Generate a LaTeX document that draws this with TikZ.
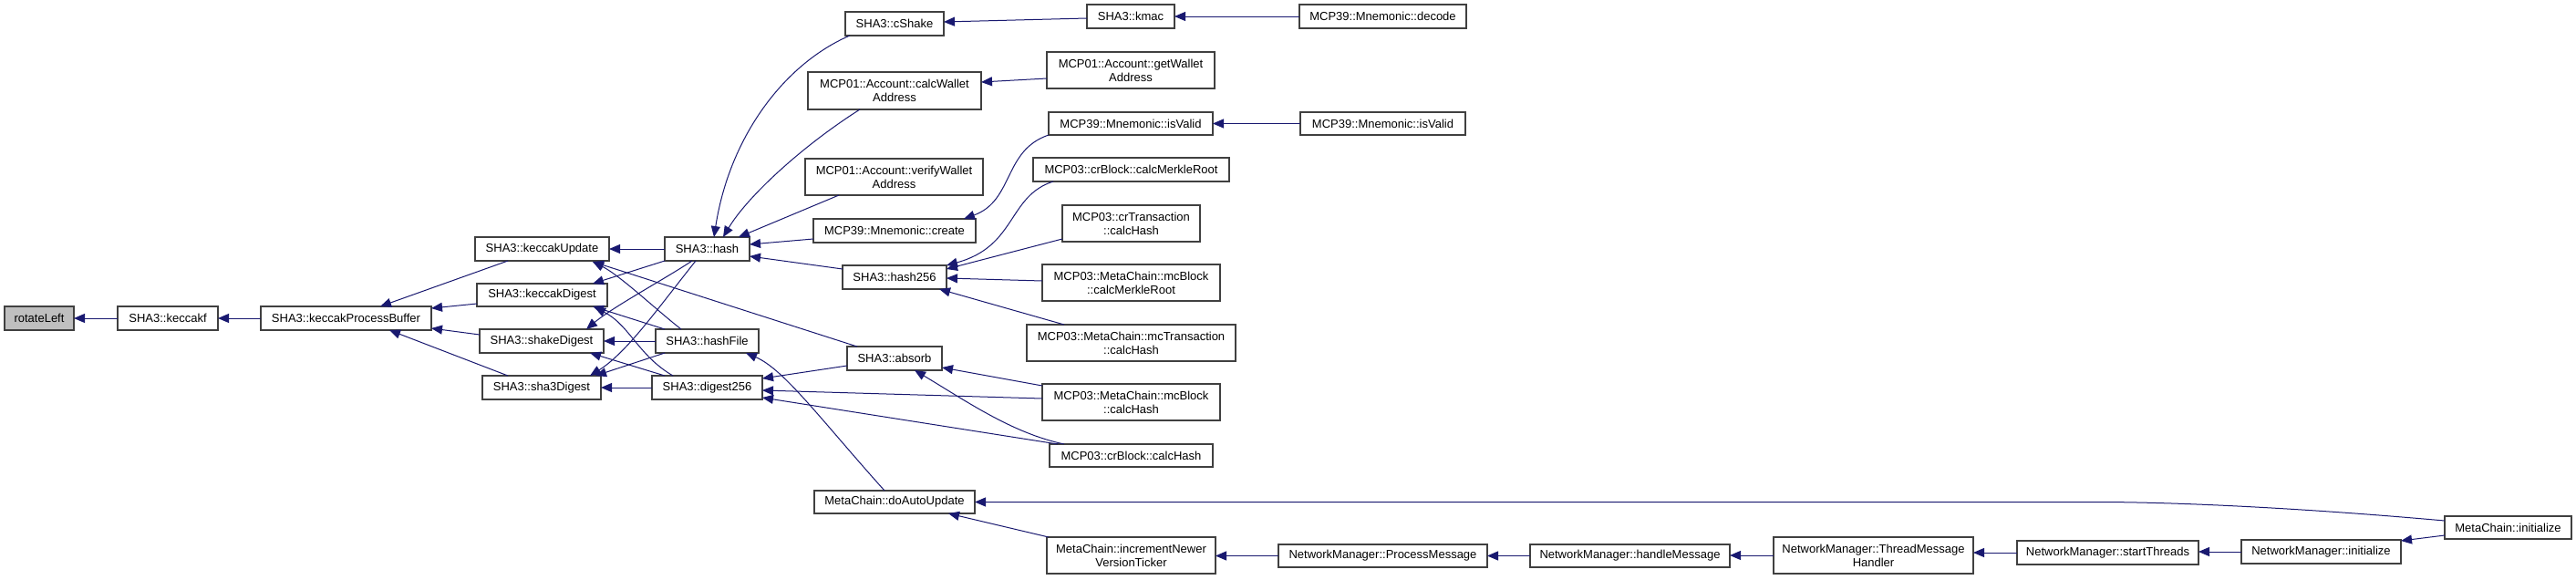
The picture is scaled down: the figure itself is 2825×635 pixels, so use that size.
\documentclass[tikz,border=0pt]{standalone}
\usepackage{fontspec}
\setmainfont{Liberation Sans}
\usetikzlibrary{arrows.meta,calc}
\definecolor{edgeblue}{RGB}{25,25,112}
\definecolor{boxline}{RGB}{64,64,64}
\newcommand\nd[7][]{\node[box,#1,minimum width={(#5-#3)*1pt},minimum height={(#6-#4)*1pt}] (#2) at ({(#3+#5)/2},{(#4+#6)/2}) {#7};}
\tikzset{
  box/.style={draw=boxline,line width=1.3pt,fill=white,inner sep=0pt,outer sep=0pt,align=center,
    font=\fontsize{13}{15}\selectfont},
  hilite/.style={fill=black!25},
  edge/.style={draw=edgeblue,line width=1pt,-{Triangle[length=12pt,width=10pt]}}
}
\begin{document}
\begin{tikzpicture}[x=1pt,y=-1pt]
\fill[white] (0,0) rectangle (2825,635);
\useasboundingbox (0,0) rectangle (2825,635);

% ---------------- nodes ----------------
\nd[hilite]{rl}{5}{336}{81}{362}{rotateLeft}
\nd{kf}{129}{336}{239}{362}{SHA3::keccakf}
\nd{kpb}{286}{336}{473}{362}{SHA3::keccakProcessBuffer}
\nd{kU}{521}{260}{668}{286}{SHA3::keccakUpdate}
\nd{kD}{523}{311}{666}{336}{SHA3::keccakDigest}
\nd{sD}{526}{361}{662}{387}{SHA3::shakeDigest}
\nd{sD3}{529}{412}{659}{438}{SHA3::sha3Digest}
\nd{hash}{729}{260}{822}{286}{SHA3::hash}
\nd{hF}{719}{361}{832}{387}{SHA3::hashFile}
\nd{dg}{715}{412}{836}{438}{SHA3::digest256}
\nd{cS}{927}{13}{1035}{39}{SHA3::cShake}
\nd{kmac}{1192}{5}{1288}{31}{SHA3::kmac}
\nd{dec}{1425}{5}{1608}{31}{MCP39::Mnemonic::decode}
\nd{cWA}{886}{79}{1076}{120}{MCP01::Account::calcWallet\\Address}
\nd{gWA}{1148}{57}{1332}{97}{MCP01::Account::getWallet\\Address}
\nd{iVa}{1150}{123}{1330}{148}{MCP39::Mnemonic::isValid}
\nd{iVb}{1426}{123}{1607}{148}{MCP39::Mnemonic::isValid}
\nd{crMR}{1133}{173}{1348}{199}{MCP03::crBlock::calcMerkleRoot}
\nd{vWA}{883}{174}{1078}{214}{MCP01::Account::verifyWallet\\Address}
\nd{crTH}{1165}{225}{1316}{265}{MCP03::crTransaction\\::calcHash}
\nd{cre}{892}{240}{1070}{266}{MCP39::Mnemonic::create}
\nd{hh}{924}{291}{1038}{317}{SHA3::hash256}
\nd{mcMR}{1143}{290}{1338}{330}{MCP03::MetaChain::mcBlock\\::calcMerkleRoot}
\nd{mcTH}{1126}{356}{1355}{396}{MCP03::MetaChain::mcTransaction\\::calcHash}
\nd{abs}{929}{380}{1033}{406}{SHA3::absorb}
\nd{mcBH}{1143}{421}{1338}{461}{MCP03::MetaChain::mcBlock\\::calcHash}
\nd{crBH}{1151}{487}{1330}{512}{MCP03::crBlock::calcHash}
\nd{dAU}{893}{538}{1069}{563}{MetaChain::doAutoUpdate}
\nd{iNV}{1148}{589}{1333}{629}{MetaChain::incrementNewer\\VersionTicker}
\nd{PM}{1402}{597}{1631}{622}{NetworkManager::ProcessMessage}
\nd{hM}{1678}{597}{1897}{622}{NetworkManager::handleMessage}
\nd{TMH}{1945}{589}{2164}{629}{NetworkManager::ThreadMessage\\Handler}
\nd{sT}{2212}{593}{2411}{619}{NetworkManager::startThreads}
\nd{NMi}{2458}{592}{2633}{618}{NetworkManager::initialize}
\nd{MCi}{2681}{566}{2820}{591}{MetaChain::initialize}

% ---------------- edges ----------------
\draw[edge] (kf.west) -- (rl.east);
\draw[edge] (kpb.west) -- (kf.east);
\draw[edge] ($(kU.south west)+(36,0)$) -- ($(kpb.north west)+(131,0)$);
\draw[edge] ($(kD.south west)+(0,-3)$) -- ($(kpb.north east)+(0,2)$);
\draw[edge] ($(sD.west)+(0,-7)$) -- ($(kpb.south east)+(0,-2)$);
\draw[edge] ($(sD3.north west)+(28,0)$) -- ($(kpb.south west)+(141,0)$);

\draw[edge] (hash.west) -- (kU.east);
\draw[edge] (hash.south west) -- ($(kD.north east)+(-16,0)$);
\draw[edge] ($(hash.south west)+(30,0)$) .. controls +(-30,20) and +(30,-25) .. ($(sD.north east)+(-19,0)$);
\draw[edge] ($(hash.south west)+(34,0)$) .. controls +(-43,54) and +(40,-25) .. ($(sD3.north east)+(-12,0)$);
\draw[edge] ($(hF.north west)+(28,0)$) .. controls +(-27,-21) and +(30,15) .. ($(kU.south east)+(-18,1)$);
\draw[edge] ($(hF.north west)+(10,0)$) -- ($(kD.south east)+(-16,0)$);
\draw[edge] (hF.west) -- (sD.east);
\draw[edge] ($(hF.south west)+(10,0)$) -- ($(sD3.north east)+(-6,0)$);
\draw[edge] ($(dg.north west)+(23,0)$) .. controls +(-38,-22) and +(38,19) .. ($(kD.south east)+(-14,1)$);
\draw[edge] ($(dg.north west)+(14,0)$) -- ($(sD.south east)+(-15,0)$);
\draw[edge] (dg.west) -- (sD3.east);
\draw[edge] ($(abs.north west)+(11,0)$) -- ($(kU.south east)+(-18,1)$);

\draw[edge] ($(cS.south west)+(5,0)$) .. controls +(-72,31) and +(17,-110) .. ($(hash.north west)+(54,0)$);
\draw[edge] ($(cWA.south west)+(57,0)$) .. controls +(-63,40) and +(27,-45) .. ($(hash.north west)+(64,0)$);
\draw[edge] ($(vWA.south west)+(37,0)$) -- ($(hash.north west)+(81,0)$);
\draw[edge] ($(cre.west)+(0,9)$) -- ($(hash.east)+(0,-5)$);
\draw[edge] ($(hh.west)+(0,-9)$) -- ($(hash.east)+(0,8)$);

\draw[edge] ($(kmac.west)+(0,2)$) -- ($(cS.east)+(0,-2)$);
\draw[edge] (dec.west) -- (kmac.east);
\draw[edge] ($(gWA.west)+(0,9)$) -- ($(cWA.east)+(0,-9.5)$);
\draw[edge] (iVa.south west) .. controls +(-50,17) and +(55,-20) .. ($(cre.north east)+(-13,0)$);
\draw[edge] (iVb.west) -- (iVa.east);
\draw[edge] ($(crMR.south west)+(22,0)$) .. controls +(-50,16) and +(77,-21) .. (hh.north east);
\draw[edge] ($(crTH.south west)+(0,-3)$) -- ($(hh.east)+(0,-9)$);
\draw[edge] ($(mcMR.west)+(0,-2)$) -- ($(hh.east)+(0,1)$);
\draw[edge] ($(mcTH.north west)+(41,0)$) -- ($(hh.south east)+(-8,0)$);

\draw[edge] ($(abs.west)+(0,8)$) -- ($(dg.east)+(0,-10)$);
\draw[edge] ($(mcBH.north west)+(0,2)$) -- ($(abs.east)+(0,10)$);
\draw[edge] ($(crBH.north west)+(16,0)$) .. controls +(-57,-12) and +(57,34) .. ($(abs.south west)+(74,0)$);
\draw[edge] ($(mcBH.west)+(0,-4)$) -- ($(dg.east)+(0,3)$);
\draw[edge] ($(crBH.north west)+(9,0)$) -- ($(dg.south east)+(0,-2)$);

\draw[edge] ($(dAU.north west)+(77,0)$) .. controls +(-70,-78) and +(42,18) .. ($(hF.south east)+(-14,0)$);
\draw[edge] ($(MCi.west)+(0,-7.5)$) .. controls +(-180,-16) and +(70,0) .. ($(dAU.east)+(1230,0)$) -- (dAU.east);
\draw[edge] ($(iNV.north west)+(2,0)$) -- ($(dAU.south east)+(-29,0)$);
\draw[edge] (PM.west) -- (iNV.east |- PM.west);
\draw[edge] (hM.west) -- (PM.east);
\draw[edge] (TMH.west) -- (hM.east |- TMH.west);
\draw[edge] (sT.west) -- (TMH.east |- sT.west);
\draw[edge] (NMi.west) -- (sT.east |- NMi.west);
\draw[edge] ($(MCi.west)+(0,8.5)$) -- ($(NMi.north east)+(0,1)$);
\end{tikzpicture}
\end{document}
